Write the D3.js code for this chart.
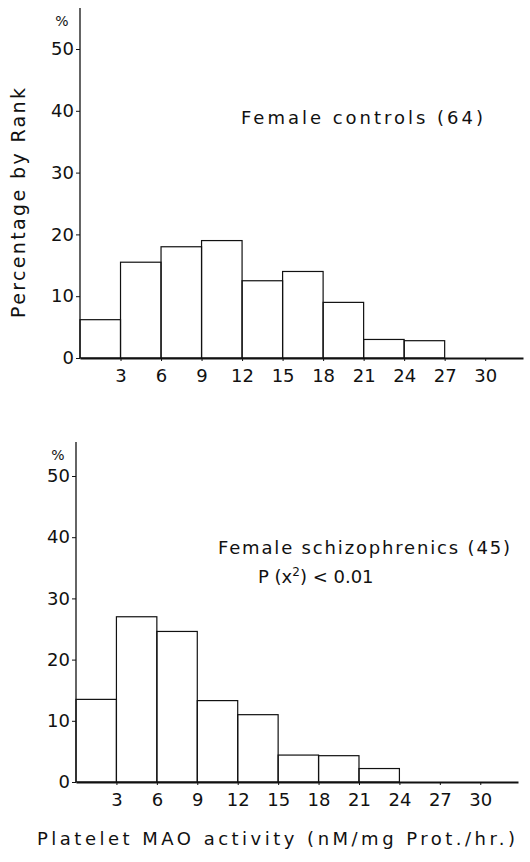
<!DOCTYPE html>
<html>
<head>
<meta charset="utf-8">
<script src="https://cdn.jsdelivr.net/npm/d3@7"></script>
<style>
  body { margin: 0; background: #fff; }
  svg text { font-family: "DejaVu Sans", sans-serif; fill: #111; }
</style>
</head>
<body>
<script>
// bins are 3 units wide, starting at 0
var binStarts = [0, 3, 6, 9, 12, 15, 18, 21, 24, 27];
var controlsPct = [6.2, 15.5, 18, 19, 12.5, 14, 9, 3, 2.8, 0];
var schizoPct = [13.5, 27, 24.6, 13.3, 11, 4.4, 4.3, 2.2, 0, 0];
var xTicks = [3, 6, 9, 12, 15, 18, 21, 24, 27, 30];
var yTicks = [0, 10, 20, 30, 40, 50];

var width = 530, height = 862;

var svg = d3.select("body").append("svg")
    .attr("width", width)
    .attr("height", height);

function drawPanel(p) {
    var x = d3.scaleLinear().domain([0, 32.8]).range([p.left, p.right]);
    var y = d3.scaleLinear().domain([0, 50]).range([p.base, p.y50]);
    var g = svg.append("g");

    // bars
    g.selectAll("rect.bar")
        .data(binStarts.map(function(b, i) { return { start: b, pct: p.values[i] }; })
            .filter(function(d) { return d.pct > 0; }))
        .enter()
        .append("rect")
        .attr("class", "bar")
        .attr("x", function(d) { return x(d.start); })
        .attr("y", function(d) { return y(d.pct); })
        .attr("width", x(3) - x(0))
        .attr("height", function(d) { return y(0) - y(d.pct); })
        .attr("fill", "none")
        .attr("stroke", "#111")
        .attr("stroke-width", 1.2);

    // y axis
    var ya = g.append("g")
        .attr("transform", "translate(" + p.left + ",0)")
        .call(d3.axisLeft(y).tickValues(yTicks).tickSize(4).tickSizeOuter(0).tickPadding(2));
    ya.select(".domain").remove();
    ya.selectAll("line").attr("stroke", "#111");
    ya.selectAll("text").attr("font-size", 18);
    g.append("line")
        .attr("x1", p.left).attr("x2", p.left)
        .attr("y1", p.axisTop).attr("y2", y(0))
        .attr("stroke", "#111").attr("stroke-width", 1.3);
    g.append("text")
        .attr("x", p.left - 18).attr("y", p.axisTop + 18)
        .attr("text-anchor", "middle")
        .attr("font-size", 14)
        .text("%");

    // x axis
    var xa = g.append("g")
        .attr("transform", "translate(0," + y(0) + ")")
        .call(d3.axisBottom(x).tickValues(xTicks).tickSize(3).tickSizeOuter(0).tickPadding(8));
    xa.select(".domain").attr("stroke", "#111").attr("stroke-width", 2);
    xa.selectAll("line").attr("stroke", "#111");
    xa.selectAll("text").attr("font-size", 18);

    // legend text
    p.notes.forEach(function(n) {
        g.append("text")
            .attr("x", n.x).attr("y", n.y)
            .attr("font-size", 18)
            .attr("textLength", n.len)
            .attr("lengthAdjust", "spacing")
            .text(n.text);
    });
    return g;
}

drawPanel({
    values: controlsPct, left: 80, right: 523, base: 358, y50: 49, axisTop: 8,
    notes: [{ text: "Female    controls  (64)", x: 241, y: 124, len: 242 }]
});

var bottom = drawPanel({
    values: schizoPct, left: 76, right: 518, base: 782, y50: 476, axisTop: 442,
    notes: [{ text: "Female  schizophrenics  (45)", x: 218, y: 554, len: 292 }]
});

bottom.append("text")
    .attr("x", 258).attr("y", 583)
    .attr("font-size", 18)
    .html('P (x<tspan dy="-7" font-size="12">2</tspan><tspan dy="7">) &lt; 0.01</tspan>');

svg.append("text")
    .attr("x", 37).attr("y", 845)
    .attr("font-size", 18)
    .attr("textLength", 478)
    .attr("lengthAdjust", "spacing")
    .text("Platelet  MAO  activity  (nM/mg Prot./hr.)");

svg.append("text")
    .attr("transform", "translate(25,203) rotate(-90)")
    .attr("text-anchor", "middle")
    .attr("font-size", 19)
    .attr("textLength", 230)
    .attr("lengthAdjust", "spacing")
    .text("Percentage  by  Rank");
</script>
</body>
</html>
